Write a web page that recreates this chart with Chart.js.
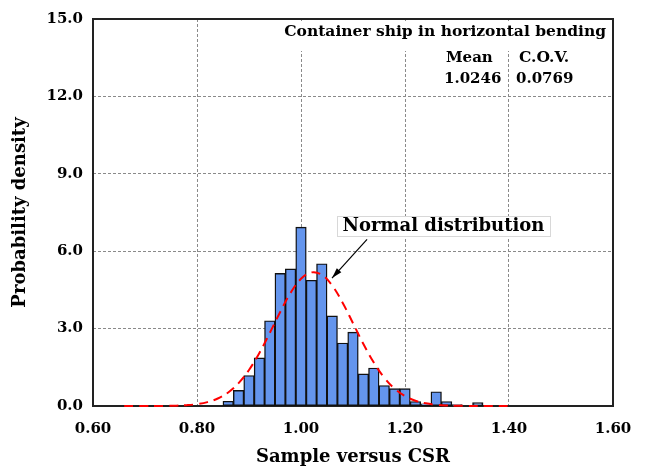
<!DOCTYPE html>
<html>
<head>
<meta charset="utf-8">
<script src="https://cdn.jsdelivr.net/npm/chart.js@4"></script>
<style>html,body{margin:0;padding:0;background:#fff;}canvas{display:block;}</style>
</head>
<body>
<canvas id="c" width="646" height="468"></canvas>
<script>
// Histogram bin centres (bin width 0.02) and densities
const binCentres = [0.86,0.88,0.90,0.92,0.94,0.96,0.98,1.00,1.02,1.04,1.06,1.08,1.10,1.12,1.14,1.16,1.18,1.20,1.22,1.24,1.26,1.28,1.30,1.32,1.34];
const densities  = [0.18,0.60,1.18,1.86,3.30,5.14,5.31,6.93,4.87,5.51,3.49,2.44,2.86,1.24,1.47,0.79,0.67,0.67,0.17,0.08,0.55,0.17,0.05,null,0.13];
// Normal distribution curve (dashed red) points
const curveX = [0.66,0.68,0.70,0.72,0.74,0.76,0.78,0.80,0.82,0.84,0.86,0.88,0.90,0.92,0.94,0.96,0.98,1.00,1.02,1.04,1.06,1.08,1.10,1.12,1.14,1.16,1.18,1.20,1.22,1.24,1.26,1.28,1.30,1.32,1.34,1.36,1.38,1.40];
const curveY = [0.0001,0.0002,0.0007,0.0020,0.0055,0.014,0.033,0.073,0.151,0.291,0.525,0.886,1.397,2.057,2.833,3.646,4.385,4.929,5.179,5.085,4.667,4.002,3.208,2.404,1.683,1.101,0.673,0.385,0.206,0.103,0.048,0.021,0.0085,0.0032,0.0012,0.0004,0.0001,0.00003];
// Tick labels / axis ranges
const xTicks = [0.60,0.80,1.00,1.20,1.40,1.60];
const yTicks = [0,3,6,9,12,15];
const xTitle = 'Sample versus CSR';
const yTitle = 'Probability density';
const boxTitle = 'Container ship in horizontal bending';
const statHeads = ['Mean','C.O.V.'];
const statVals = ['1.0246','0.0769'];
const curveLabel = 'Normal distribution';

const FONT = "'DejaVu Serif', serif";

const annot = {
  id: 'annot',
  beforeDatasetsDraw(chart) {
    const ctx = chart.ctx, a = chart.chartArea;
    ctx.save();
    ctx.fillStyle = '#fff';
    ctx.fillRect(276, a.top + 2, a.right - 278, 30);
    ctx.fillStyle = '#000';
    ctx.textBaseline = 'middle';
    ctx.textAlign = 'right';
    ctx.font = 'bold 15.5px ' + FONT;
    ctx.fillText(boxTitle, 606, 32);
    ctx.font = 'bold 15px ' + FONT;
    ctx.textAlign = 'left';
    ctx.fillText(statHeads[0], 446, 58);
    ctx.font = 'bold 15.5px ' + FONT;
    ctx.fillText(statHeads[1], 519, 58);
    ctx.font = 'bold 15px ' + FONT;
    ctx.fillText(statVals[0], 444, 79);
    ctx.fillText(statVals[1], 516, 79);
    // frame
    ctx.strokeStyle = '#222';
    ctx.lineWidth = 2;
    ctx.strokeRect(a.left, a.top, a.right - a.left, a.bottom - a.top);
    ctx.restore();
  },
  afterDatasetsDraw(chart) {
    const ctx = chart.ctx;
    const xs = chart.scales.x, ys = chart.scales.y;
    ctx.save();
    // label box
    const bx0 = xs.getPixelForValue(1.0692), bx1 = xs.getPixelForValue(1.4788);
    const by0 = ys.getPixelForValue(7.346), by1 = ys.getPixelForValue(6.577);
    ctx.fillStyle = '#fff';
    ctx.fillRect(bx0, by0, bx1 - bx0, by1 - by0);
    ctx.strokeStyle = '#d8d8d8';
    ctx.lineWidth = 1;
    ctx.strokeRect(Math.round(bx0) + 0.5, Math.round(by0) + 0.5, Math.round(bx1 - bx0), Math.round(by1 - by0));
    ctx.fillStyle = '#000';
    ctx.font = 'bold 18px ' + FONT;
    ctx.textAlign = 'center';
    ctx.textBaseline = 'middle';
    ctx.fillText(curveLabel, (bx0 + bx1) / 2, (by0 + by1) / 2);
    // arrow
    const ax0 = xs.getPixelForValue(1.127), ay0 = ys.getPixelForValue(6.46);
    const ax1 = xs.getPixelForValue(1.0596), ay1 = ys.getPixelForValue(4.96);
    ctx.strokeStyle = '#000';
    ctx.lineWidth = 1.2;
    ctx.beginPath(); ctx.moveTo(ax0, ay0); ctx.lineTo(ax1, ay1); ctx.stroke();
    const ang = Math.atan2(ay1 - ay0, ax1 - ax0);
    ctx.beginPath();
    ctx.moveTo(ax1, ay1);
    ctx.lineTo(ax1 - 11 * Math.cos(ang - 0.28), ay1 - 11 * Math.sin(ang - 0.28));
    ctx.lineTo(ax1 - 11 * Math.cos(ang + 0.28), ay1 - 11 * Math.sin(ang + 0.28));
    ctx.closePath();
    ctx.fillStyle = '#000';
    ctx.fill();
    ctx.restore();
  }
};

new Chart(document.getElementById('c'), {
  type: 'bar',
  data: {
    datasets: [
      {
        type: 'line',
        data: curveX.map((x, i) => ({x: x, y: curveY[i]})),
        borderColor: '#ff0000',
        borderWidth: 2,
        borderDash: [9, 6],
        pointRadius: 0,
        tension: 0.4,
        fill: false,
        clip: 2,
        order: 0
      },
      {
        type: 'bar',
        data: binCentres.map((x, i) => ({x: x, y: densities[i]})),
        backgroundColor: '#6495ED',
        borderColor: '#111',
        borderWidth: 1.4,
        borderSkipped: false,
        barPercentage: 1,
        categoryPercentage: 1,
        grouped: false,
        inflateAmount: 0.4,
        order: 1
      }
    ]
  },
  options: {
    responsive: false,
    animation: false,
    devicePixelRatio: 1,
    layout: {padding: {left: 0, right: 33, top: 16, bottom: 0}},
    plugins: {legend: {display: false}, tooltip: {enabled: false}},
    scales: {
      x: {
        type: 'linear',
        min: xTicks[0], max: xTicks[xTicks.length - 1],
        offset: false,
        afterBuildTicks: (s) => { s.ticks = xTicks.map(v => ({value: v})); },
        afterFit: (s) => { s.height = 62; },
        ticks: {color: '#000', font: {family: FONT, size: 15, weight: 'bold'}, padding: 14, maxRotation: 0,
                callback: (v) => Number(v).toFixed(2)},
        grid: {color: '#8a8a8a', lineWidth: 1, drawTicks: false, offset: false},
        border: {display: false, dash: [3, 2]},
        title: {display: true, text: xTitle, color: '#000', font: {family: FONT, size: 18, weight: 'bold'}, padding: {top: 0, bottom: 0}}
      },
      y: {
        min: yTicks[0], max: yTicks[yTicks.length - 1],
        afterBuildTicks: (s) => { s.ticks = yTicks.map(v => ({value: v})); },
        afterFit: (s) => { s.width = 93; },
        ticks: {color: '#000', font: {family: FONT, size: 15, weight: 'bold'}, padding: 10,
                callback: (v) => Number(v).toFixed(1)},
        grid: {color: '#8a8a8a', lineWidth: 1, drawTicks: false},
        border: {display: false, dash: [3, 2]},
        title: {display: true, text: yTitle, color: '#000', font: {family: FONT, size: 18, weight: 'bold'}, padding: {top: 10, bottom: 0}}
      }
    }
  },
  plugins: [annot]
});
</script>
</body>
</html>
